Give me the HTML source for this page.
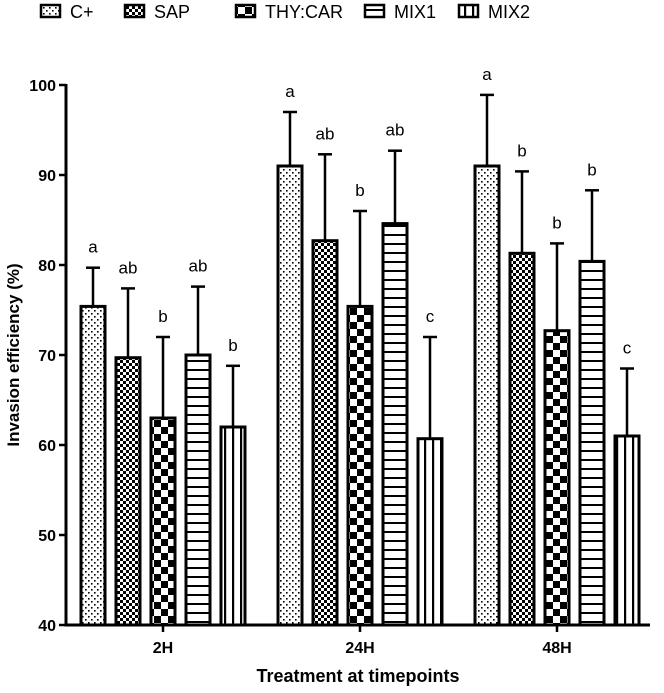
<!DOCTYPE html>
<html><head><meta charset="utf-8"><style>
body{margin:0;background:#fff;}
text{font-family:"Liberation Sans",Arial,sans-serif;}
</style></head><body>
<svg id="chart" width="664" height="688" xmlns="http://www.w3.org/2000/svg">
<defs>
<pattern id="p0" width="6" height="6" patternUnits="userSpaceOnUse"><rect width="6" height="6" fill="#fff"/><rect x="1" y="1" width="1.6" height="1.6" fill="#000"/><rect x="4" y="4" width="1.6" height="1.6" fill="#000"/></pattern>
<pattern id="p1" width="6" height="6" patternUnits="userSpaceOnUse"><rect width="6" height="6" fill="#fff"/><rect width="3" height="3" fill="#000"/><rect x="3" y="3" width="3" height="3" fill="#000"/></pattern>
<pattern id="p2" width="14" height="14" patternUnits="userSpaceOnUse"><rect width="14" height="14" fill="#fff"/><rect width="7" height="7" fill="#000"/><rect x="7" y="7" width="7" height="7" fill="#000"/></pattern>
<pattern id="p3" width="8" height="9" patternUnits="userSpaceOnUse"><rect width="8" height="9" fill="#fff"/><rect y="0" width="8" height="2" fill="#000"/></pattern>
<pattern id="p4" width="8" height="8" patternUnits="userSpaceOnUse"><rect width="8" height="8" fill="#fff"/><rect x="0" width="2.2" height="8" fill="#000"/></pattern>
</defs>
<g id="plot"></g>
</svg>
<script>
const categories=["2H","24H","48H"];
const series=["C+","SAP","THY:CAR","MIX1","MIX2"];
const valC=[75.4,91.0,91.0];
const valSAP=[69.7,82.7,81.3];
const valTHY=[63.0,75.4,72.7];
const valMIX1=[70.0,84.6,80.4];
const valMIX2=[62.0,60.7,61.0];
const errC=[79.7,97.0,98.9];
const errSAP=[77.4,92.3,90.4];
const errTHY=[72.0,86.0,82.4];
const errMIX1=[77.6,92.7,88.3];
const errMIX2=[68.8,72.0,68.5];
const lettersC=["a","a","a"];
const lettersSAP=["ab","ab","b"];
const lettersTHY=["b","b","b"];
const lettersMIX1=["ab","ab","b"];
const lettersMIX2=["b","c","c"];
const yTicks=[40,50,60,70,80,90,100];

const vals=[valC,valSAP,valTHY,valMIX1,valMIX2];
const errs=[errC,errSAP,errTHY,errMIX1,errMIX2];
const lets=[lettersC,lettersSAP,lettersTHY,lettersMIX1,lettersMIX2];
const NS="http://www.w3.org/2000/svg";
const g=document.getElementById('plot');
const y=v=>625-(v-40)*9;
const xc=i=>163+i*197;
const off=j=>(j-2)*35;
const bw=24;
function mk(tag,attrs,parent){const e=document.createElementNS(NS,tag);for(const k in attrs)e.setAttribute(k,attrs[k]);(parent||g).appendChild(e);return e;}

categories.forEach((c,i)=>{
  series.forEach((s,j)=>{
    const cx=xc(i)+off(j);
    const top=y(vals[j][i]);
    const et=y(errs[j][i]);
    const eb=mk('line',{x1:cx,x2:cx,y1:et,y2:top,stroke:'#000','stroke-width':2.5});
    
    
    const cap=mk('line',{x1:cx-7,x2:cx+7,y1:et,y2:et,stroke:'#000','stroke-width':2.5});
    
    
    const r=mk('rect',{x:cx-bw/2,y:top,width:bw,height:625-top,fill:'url(#p'+j+')',stroke:'#000','stroke-width':3});
    
    
    const t=mk('text',{x:cx,y:et-15,'text-anchor':'middle','font-size':17});
    t.textContent=lets[j][i];
    
    
  });
  const tk=mk('line',{x1:xc(i),x2:xc(i),y1:625,y2:632,stroke:'#000','stroke-width':2.5});
  
  
  const tl=mk('text',{x:xc(i),y:653,'text-anchor':'middle','font-size':16,'font-weight':'bold'});
  tl.textContent=c;
  
  
});
const ya=mk('line',{x1:66,x2:66,y1:84,y2:626.5,stroke:'#000','stroke-width':3});


const xa=mk('line',{x1:64.5,x2:650,y1:625,y2:625,stroke:'#000','stroke-width':3});


yTicks.forEach(v=>{
  const l=mk('line',{x1:59,x2:66,y1:y(v),y2:y(v),stroke:'#000','stroke-width':2.5});
  
  
  const t=mk('text',{x:56,y:y(v)+6,'text-anchor':'end','font-size':16,'font-weight':'bold'});
  t.textContent=v;
  
  
});
const yt=mk('text',{x:0,y:0,transform:'translate(19,355) rotate(-90)','text-anchor':'middle','font-size':17,'font-weight':'bold'});
yt.textContent='Invasion efficiency (%)';


const xt=mk('text',{x:358,y:682,'text-anchor':'middle','font-size':18,'font-weight':'bold'});
xt.textContent='Treatment at timepoints';


const lx=[41,125,236,365,459];
series.forEach((s,j)=>{
  const r=mk('rect',{x:lx[j],y:5,width:19,height:12,fill:'url(#p'+j+')',stroke:'#000','stroke-width':2.5});
  
  
  const t=mk('text',{x:lx[j]+29,y:18,'font-size':18});
  t.textContent=s;
  
  
});
</script>
</body></html>
